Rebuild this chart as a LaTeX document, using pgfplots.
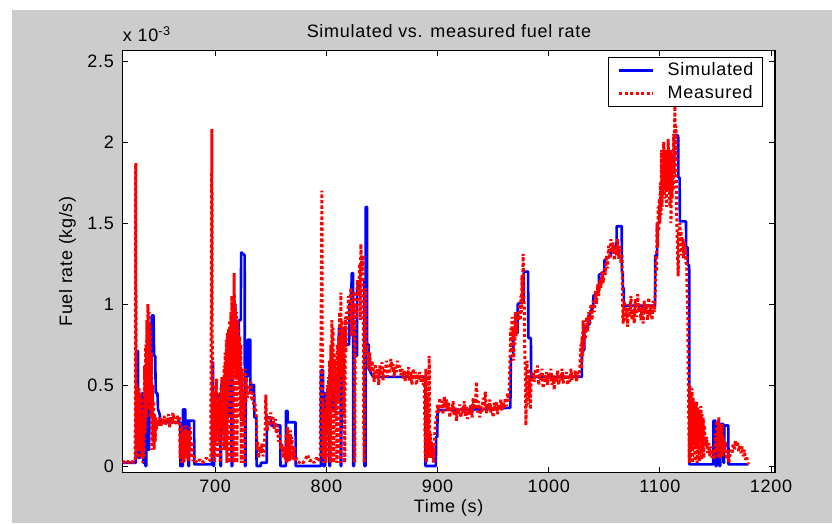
\documentclass[border=0pt]{standalone}
\usepackage{fontspec}
\setmainfont[LetterSpace=4]{Liberation Sans}
\usepackage{pgfplots}
\pgfplotsset{compat=1.18}
\definecolor{figbg}{RGB}{204,204,204}
\newcommand{\ff}{\fontsize{18}{21}\selectfont}
\begin{document}
\ff
\begin{tikzpicture}
\useasboundingbox (0pt,0pt) rectangle (832pt,523pt);
\fill[figbg] (12pt,0pt) rectangle (832pt,513pt);
\begin{axis}[
  at={(122.3pt,50.5pt)}, anchor=south west,
  scale only axis, width=652.7pt, height=422pt,
  xmin=616.4, xmax=1203.6, ymin=-0.04, ymax=2.565,
  xtick={700,800,900,1000,1100,1200},
  ytick={0,0.5,1,1.5,2,2.5},
  scaled ticks=false,
  /pgf/number format/1000 sep={},
  /pgf/number format/assume math mode=true,
  tick align=inside, major tick length=6pt,
  tick style={black, line width=1pt},
  axis line style={black, line width=1.3pt},
  axis background/.style={fill=white},
  tick label style={font=\ff, inner sep=0pt},
  xticklabel style={yshift=-7.5pt},
  yticklabel style={xshift=-8.3pt},
  legend cell align=left,
  legend image code/.code={\draw[#1] (0pt,0pt) -- (34pt,0pt);},
  legend style={at={(0.9816,0.9839)}, anchor=north east, draw=black, line width=1pt,
    fill=white, font=\ff, inner xsep=9pt, inner ysep=5pt, row sep=7pt, column sep=13pt,
    nodes={inner sep=0pt}},
]
\addplot[blue, line width=2.6pt, line join=bevel] coordinates {
(616.5,0.02) (628.5,0.02) (629,0.71) (630.5,0.71) (631,0.05) (632,0.05) (632.3,0.4) (633,0.4) (633.3,0.1) (634,0.1) (634.3,0.45) (635,0.45) (635.3,0.02) (636,0.02) (636.3,0.35) (637,0.35) (637.3,0.0) (638,0.0) (638.3,0.55) (639.5,0.6) (640,0.1) (640.5,0.1) (641,0.6) (641.5,0.3) (642.3,0.3) (642.5,0.85) (643,0.93) (644.5,0.93) (645,0.68) (646,0.68) (646.5,0.45) (648,0.45) (648.5,0.35) (650,0.32) (651,0.27) (668.5,0.27) (668.6,0.0) (670.8,0.0) (671,0.35) (673,0.35) (673.2,0.1) (674,0.1) (674.2,0.28) (675.8,0.28) (676,0.0) (676.5,0.0) (676.7,0.28) (681,0.28) (681.2,0.01) (697,0.01)
(697.2,0.64) (698,0.64) (698.3,0.0) (699,0.0) (699.2,0.43) (704.5,0.43) (704.7,0.0) (705.3,0.0) (705.5,0.5) (708,0.55) (708.2,0.2) (709,0.2) (709.2,0.62) (711,0.62) (711.2,0.3) (712,0.3) (712.2,0.75) (714.5,0.8) (714.7,0.0) (715.3,0.0) (715.5,1.0) (718,1.0) (718.2,0.85) (720,0.85) (720.2,0.55) (721,0.55) (721.2,0.9) (723,0.9) (723.3,1.32) (726.5,1.3) (726.7,0.0) (727.3,0.0) (727.5,0.55) (729,0.55) (729.2,0.78) (731.5,0.78) (731.7,0.45) (733,0.45) (733.2,0.5) (735,0.5) (735.2,0.3) (737,0.3) (737.2,0.0) (741,0.0) (741.2,0.02) (746.3,0.02) (746.5,0.3) (750,0.3) (750.2,0.25) (758.5,0.25) (758.7,0.0) (763.5,0.0) (763.7,0.34) (765,0.34) (765.2,0.27) (772.2,0.27) (772.4,0.0) (795,0.0)
(795.2,0.59) (797,0.59) (797.2,0.0) (798.8,0.0) (799,0.45) (802.5,0.45) (802.7,0.0) (803.3,0.0) (803.5,0.47) (806,0.47) (806.2,0.35) (808,0.35) (808.2,0.55) (811,0.55) (811.2,0.85) (812.7,0.85) (812.9,0.0) (813.5,0.0) (813.7,0.85) (817,0.85) (817.2,0.75) (820.5,0.75) (820.7,1.0) (822.5,1.0) (822.7,1.19) (824,1.19) (824.2,0.0) (825,0.0) (825.2,0.85) (826,0.85) (826.2,0.68) (827.5,0.68) (827.7,1.1) (831,1.15) (834,1.15) (834.2,0.0) (835.2,0.0) (835.4,1.6) (836.5,1.6) (836.7,0.75) (838,0.75) (838.2,0.6) (842,0.55) (889,0.55)
(889.2,0.0) (898.5,0.0) (898.7,0.18) (899.8,0.18) (900,0.32) (901,0.345) (940,0.35) (965.5,0.36) (966,0.68) (968,0.68) (968.2,0.82) (972,0.82) (972.2,1.0) (977.5,1.02) (977.7,1.2) (981.5,1.2) (981.7,0.79) (984,0.79) (984.2,0.55) (1029.8,0.55) (1030,0.7) (1032,0.72) (1032.2,0.85) (1037,0.88) (1037.2,0.95) (1040,0.98) (1040.2,1.05) (1045,1.08) (1045.2,1.18) (1050,1.2) (1050.2,1.27) (1056,1.3) (1056.2,1.34) (1061,1.35) (1061.2,1.48) (1065.7,1.48) (1065.9,1.2) (1066.6,1.2) (1066.8,1.1) (1067.5,1.1) (1067.7,0.99) (1095.7,0.99) (1095.9,1.3) (1097.5,1.3) (1097.7,1.5) (1099.5,1.5) (1099.7,1.6) (1101,1.6) (1101.2,1.7) (1104.5,1.72) (1104.7,1.81) (1108,1.81) (1108.2,1.89) (1112.5,1.9) (1112.7,2.04) (1116.5,2.04) (1116.7,1.78) (1117.8,1.78) (1118,1.51) (1123.5,1.51) (1123.7,1.35) (1125,1.35) (1125.2,1.24) (1126.4,1.24) (1126.6,0.01) (1148,0.01) (1148.2,0.28) (1150,0.28) (1150.2,0.0) (1151,0.0) (1151.2,0.26) (1153.5,0.26) (1153.7,0.0) (1154.3,0.0) (1154.5,0.26) (1157,0.26) (1157.2,0.02) (1157.8,0.02) (1158,0.25) (1161.6,0.25) (1161.8,0.01) (1179.6,0.01)
};
\addlegendentry{Simulated}
\addplot[red, line width=3pt, dash pattern=on 3pt off 2.5pt, line join=bevel] coordinates {
(617,0.03) (619,0.02) (621,0.03) (623,0.02) (625,0.03) (627,0.02) (628,0.04)
(628.5,1.87) (629,0.05) (629.5,0.5) (630,0.1) (630.5,0.45) (631,0.05) (631.5,0.48) (632,0.1) (632.5,0.45) (633,0.15) (633.5,0.42) (634,0.05) (634.5,0.3) (635,0.02) (635.5,0.35) (636,0.05) (636.5,0.62) (637,0.2) (637.5,0.75) (638,0.3) (638.5,0.9) (639,0.4) (639.5,1.0) (640,0.35) (640.5,0.95) (641,0.5) (641.5,0.88) (642,0.3) (642.5,0.7) (643,0.1) (643.5,0.5) (644,0.15) (644.5,0.4) (645,0.1) (645.5,0.32) (646,0.15) (646.5,0.3)
(647,0.22) (648,0.28) (649,0.25) (650,0.3) (651,0.24) (652,0.28) (653,0.26) (654,0.31) (655,0.25) (656,0.29) (657,0.27) (658,0.32) (659,0.24) (660,0.3) (661,0.26) (662,0.33) (663,0.27) (664,0.3) (665,0.25) (666,0.31) (667,0.28) (668,0.3)
(668.5,0.05) (669,0.2) (669.5,0.02) (670,0.25) (670.5,0.05) (671,0.15) (672,0.02) (672.5,0.22) (673,0.05) (673.5,0.25) (674,0.08) (675,0.2) (675.5,0.03) (676,0.22) (677,0.1) (677.5,0.24) (678,0.05) (679,0.15) (680,0.03) (681,0.06)
(682,0.03) (684,0.02) (686,0.04) (688,0.02) (690,0.03) (692,0.05) (694,0.03) (696,0.04)
(697,2.08) (697.5,0.05) (698,0.45) (698.5,0.1) (699,0.42) (699.5,0.02) (700,0.5) (700.5,0.15) (701,0.54) (701.5,0.2) (702,0.4) (702.5,0.05) (703,0.38) (703.5,0.15) (704,0.45) (704.5,0.02) (705,0.48) (705.5,0.25) (706,0.55) (706.5,0.1) (707,0.5) (707.5,0.2)
(708,0.62) (708.5,0.1) (709,0.7) (709.5,0.3) (710,0.78) (710.5,0.02) (711,0.82) (711.5,0.4) (712,0.85) (712.5,0.5) (713,0.9) (713.5,0.02) (714,0.95) (714.5,0.55) (715,1.05) (715.5,0.6) (716,0.9) (716.5,0.02) (717,1.19) (717.5,0.6) (718,1.0) (718.5,0.55) (719,0.95) (719.5,0.02) (720,0.9) (720.5,0.6) (721,0.85) (721.5,0.5) (722,0.8) (722.5,0.3) (723,0.75) (723.5,0.02) (724,0.6) (724.5,0.35) (725,0.5) (725.5,0.25) (726,0.45) (726.5,0.02) (727,0.6) (727.5,0.4) (728,0.55) (729,0.42) (730,0.5) (731,0.45) (732,0.52) (733,0.4) (734,0.45) (735,0.35) (736,0.38) (737,0.3) (737.5,0.1) (738,0.15) (739,0.05) (740,0.12) (741,0.08) (742,0.14) (743,0.06) (744,0.1) (745,0.25) (745.5,0.44) (746,0.3) (747,0.22) (748,0.3) (749,0.25) (750,0.33) (751,0.28) (752,0.3) (753,0.23) (754,0.29) (755,0.2) (756,0.25) (757,0.15) (758,0.2) (759,0.1) (760,0.14) (761,0.05) (762,0.12) (763,0.04) (764,0.2) (764.5,0.02) (765,0.24) (765.5,0.05) (766,0.2) (767,0.03) (767.5,0.22) (768,0.06) (769,0.18) (770,0.04) (771,0.12) (772,0.03) (773,0.05) (775,0.02) (777,0.03) (779,0.02) (781,0.04) (783,0.07) (785,0.03) (787,0.04) (789,0.02) (791,0.05) (793,0.03) (794.5,0.06)
(796,1.70) (796.5,0.05) (797,0.4) (797.5,0.02) (798,0.35) (798.5,0.1) (799,0.3) (799.5,0.02) (800,0.45) (800.5,0.2) (801,0.5) (801.5,0.05) (802,0.55) (802.5,0.25) (803,0.65) (803.5,0.02) (804,0.75) (804.5,0.4) (805,0.9) (805.5,0.5) (806,0.85) (806.5,0.02) (807,0.7) (807.5,0.45) (808,0.65) (808.5,0.3) (809,0.6) (809.5,0.02) (810,0.75) (810.5,0.4) (811,0.8) (811.5,0.5) (812,0.95) (812.5,0.02) (813,1.07) (813.5,0.55) (814,0.9) (814.5,0.6) (815,0.85) (815.5,0.3) (816,0.8) (816.5,0.02) (817,0.92) (817.5,0.7) (818,0.95) (819,0.88) (820,1.05) (821,0.9) (822,1.1) (822.5,0.8) (823,1.0) (824,0.95) (825,1.08) (825.5,0.02) (826,1.0) (827,0.92) (828,1.15) (829,1.05) (830,1.25) (830.5,0.9) (831,1.37) (832,1.2) (833,1.3) (833.5,0.3) (834,0.02) (834.5,0.8) (835,1.1) (836,0.7) (837,0.75) (838,0.6) (839,0.7) (840,0.58) (841,0.65)
(842,0.6) (843,0.52) (844,0.63) (845,0.55) (846,0.6) (847,0.5) (848,0.62) (849,0.56) (850,0.64) (851,0.53) (852,0.6) (853,0.58) (854,0.65) (855,0.55) (856,0.62) (857,0.57) (858,0.66) (859,0.6) (860,0.63) (861,0.55) (862,0.61) (863,0.58) (864,0.65) (865,0.6) (866,0.62) (867,0.56) (868,0.6) (869,0.54) (870,0.59) (871,0.52) (872,0.58) (873,0.55) (874,0.61) (875,0.52) (876,0.58) (877,0.5) (878,0.6) (879,0.55) (880,0.58) (881,0.5) (882,0.57) (883,0.53) (884,0.58) (885,0.52) (886,0.56) (887,0.5) (888,0.55)
(888.5,0.3) (889,0.05) (889.5,0.6) (890,0.02) (890.5,0.45) (891,0.05) (891.5,0.3) (892,0.1) (892.5,0.68) (893,0.05) (893.5,0.2) (894,0.08) (894.5,0.15) (895,0.05) (896,0.12) (896.5,0.02) (897,0.08) (897.5,0.2) (898,0.25)
(899,0.3) (900,0.38) (901,0.33) (902,0.42) (903,0.35) (904,0.4) (905,0.32) (906,0.43) (907,0.36) (908,0.41) (909,0.34) (910,0.39) (911,0.3) (912,0.37) (913,0.33) (914,0.4) (915,0.31) (916,0.36) (917,0.28) (918,0.35) (919,0.32) (920,0.38) (921,0.3) (922,0.36) (923,0.33) (924,0.4) (925,0.31) (926,0.37) (927,0.29) (928,0.35) (929,0.32) (930,0.38) (931,0.3) (932,0.42) (933,0.35) (934,0.38) (935,0.52) (936,0.33) (937,0.4) (938,0.3) (939,0.37) (940,0.33) (941,0.42) (942,0.35) (943,0.46) (944,0.32) (945,0.38) (946,0.35) (947,0.41) (948,0.33) (949,0.37) (950,0.3) (951,0.39) (952,0.34) (953,0.4) (954,0.32) (955,0.38) (956,0.35) (957,0.41) (958,0.34) (959,0.39) (960,0.36) (961,0.42) (962,0.37) (963,0.45) (964,0.4)
(965,0.6) (965.5,0.75) (966,0.85) (966.5,0.7) (967,0.92) (967.5,0.78) (968,0.85) (968.5,0.65) (969,0.9) (969.5,0.75) (970,0.95) (970.5,0.8) (971,0.88) (971.5,0.82) (972,0.95) (973,0.9) (974,1.0) (974.5,0.9) (975,1.05) (975.5,0.95) (976,1.18) (976.5,1.0) (977,1.31) (977.5,1.05) (978,1.0) (978.5,0.7) (979,0.6) (979.5,0.25) (980,0.45) (980.5,0.65) (981,0.5) (981.5,0.38) (982,0.6) (982.5,0.42) (983,0.55) (983.5,0.35) (984,0.5) (985,0.55)
(986,0.58) (987,0.52) (988,0.6) (989,0.55) (990,0.62) (991,0.5) (992,0.57) (993,0.53) (994,0.6) (995,0.48) (996,0.56) (997,0.52) (998,0.58) (999,0.5) (1000,0.57) (1001,0.54) (1002,0.6) (1003,0.5) (1004,0.56) (1005,0.47) (1006,0.55) (1007,0.52) (1008,0.59) (1009,0.5) (1010,0.56) (1011,0.53) (1012,0.6) (1013,0.51) (1014,0.56) (1015,0.54) (1016,0.58) (1017,0.5) (1018,0.55) (1019,0.52) (1020,0.6) (1021,0.53) (1022,0.57) (1023,0.55) (1024,0.59) (1025,0.52) (1026,0.58) (1027,0.55) (1028,0.6)
(1029,0.75) (1029.5,0.6) (1030,0.8) (1030.5,0.68) (1031,0.9) (1031.5,0.72) (1032,0.85) (1033,0.78) (1034,0.92) (1035,0.83) (1036,0.95) (1037,0.88) (1038,1.0) (1039,0.9) (1040,1.02) (1041,0.95) (1042,1.08) (1043,1.0) (1044,1.12) (1045,1.05) (1046,1.15) (1047,1.1) (1048,1.2) (1049,1.13) (1050,1.22) (1051,1.18) (1052,1.3) (1053,1.22) (1054,1.36) (1055,1.28) (1056,1.4) (1057,1.32) (1058,1.38) (1059,1.27) (1060,1.35) (1061,1.3) (1062,1.4) (1063,1.28) (1064,1.36) (1065,1.25) (1066,1.3)
(1066.5,1.0) (1067,0.88) (1068,1.02) (1069,0.9) (1070,0.98) (1071,0.86) (1072,1.0) (1073,0.92) (1074,1.05) (1075,0.9) (1076,0.97) (1077,0.88) (1078,1.03) (1079,0.92) (1080,1.06) (1081,0.95) (1082,1.0) (1083,0.9) (1084,0.98) (1085,0.88) (1086,1.02) (1087,0.94) (1088,1.0) (1089,0.9) (1090,1.04) (1091,0.93) (1092,0.98) (1093,0.9) (1094,1.02) (1095,0.95)
(1096,1.1) (1096.5,1.3) (1097,1.2) (1097.5,1.5) (1098,1.35) (1098.5,1.6) (1099,1.45) (1099.5,1.65) (1100,1.5) (1100.5,1.75) (1101,1.55) (1101.5,1.95) (1102,1.6) (1102.5,1.85) (1103,1.7) (1103.5,2.0) (1104,1.65) (1104.5,1.9) (1105,1.75) (1105.5,1.95) (1106,1.6) (1106.5,1.9) (1107,1.7) (1107.5,2.02) (1108,1.75) (1108.5,1.85) (1109,1.6) (1109.5,1.95) (1110,1.5) (1110.5,1.8) (1111,1.65) (1111.5,1.9) (1112,1.7) (1112.5,2.05) (1113,1.8) (1113.5,2.22) (1114,1.9) (1114.5,2.1) (1115,1.6) (1115.5,1.45) (1116,1.3) (1116.5,1.17) (1117,1.45) (1117.5,1.35) (1118,1.5) (1118.5,1.38) (1119,1.45) (1119.5,1.3) (1120,1.42) (1120.5,1.32) (1121,1.4) (1121.5,1.28) (1122,1.38) (1122.5,1.3) (1123,1.35) (1123.5,1.25) (1124,1.3) (1124.5,1.1) (1125,1.0) (1125.5,0.6) (1126,0.3)
(1126.5,0.02) (1127,0.5) (1127.5,0.05) (1128,0.45) (1128.5,0.1) (1129,0.48) (1129.5,0.02) (1130,0.42) (1130.5,0.15) (1131,0.4) (1131.5,0.03) (1132,0.38) (1132.5,0.12) (1133,0.4) (1133.5,0.02) (1134,0.36) (1134.5,0.1) (1135,0.35) (1135.5,0.03) (1136,0.33) (1136.5,0.15) (1137,0.37) (1137.5,0.04) (1138,0.32) (1138.5,0.1) (1139,0.3) (1139.5,0.05) (1140,0.25) (1141,0.12) (1142,0.18) (1143,0.08) (1144,0.14) (1145,0.06) (1146,0.12) (1147,0.05) (1148,0.1) (1149,0.04)
(1150,0.2) (1150.5,0.08) (1151,0.28) (1151.5,0.1) (1152,0.22) (1152.5,0.05) (1153,0.3) (1153.5,0.12) (1154,0.25) (1154.5,0.05) (1155,0.2) (1155.5,0.1) (1156,0.26) (1156.5,0.06) (1157,0.18) (1158,0.08) (1159,0.15) (1160,0.04) (1161,0.1) (1162,0.02)
(1163,0.06) (1164,0.1) (1165,0.08) (1166,0.14) (1167,0.1) (1168,0.16) (1169,0.12) (1170,0.15) (1171,0.09) (1172,0.13) (1173,0.08) (1174,0.12) (1175,0.06) (1176,0.1) (1177,0.04) (1178,0.06) (1179,0.02) (1180,0.01)
};
\addlegendentry{Measured}
\end{axis}
\node[anchor=base] at (449pt,485pt) {Simulated vs. measured fuel rate};
\node[anchor=base] at (448.6pt,10.7pt) {Time (s)};
\node[rotate=90, anchor=base] at (72pt,261.5pt) {Fuel rate (kg/s)};
\node[anchor=base west, inner sep=0pt] at (122.7pt,481.3pt) {x 10\textsuperscript{-3}};
\end{tikzpicture}
\end{document}
